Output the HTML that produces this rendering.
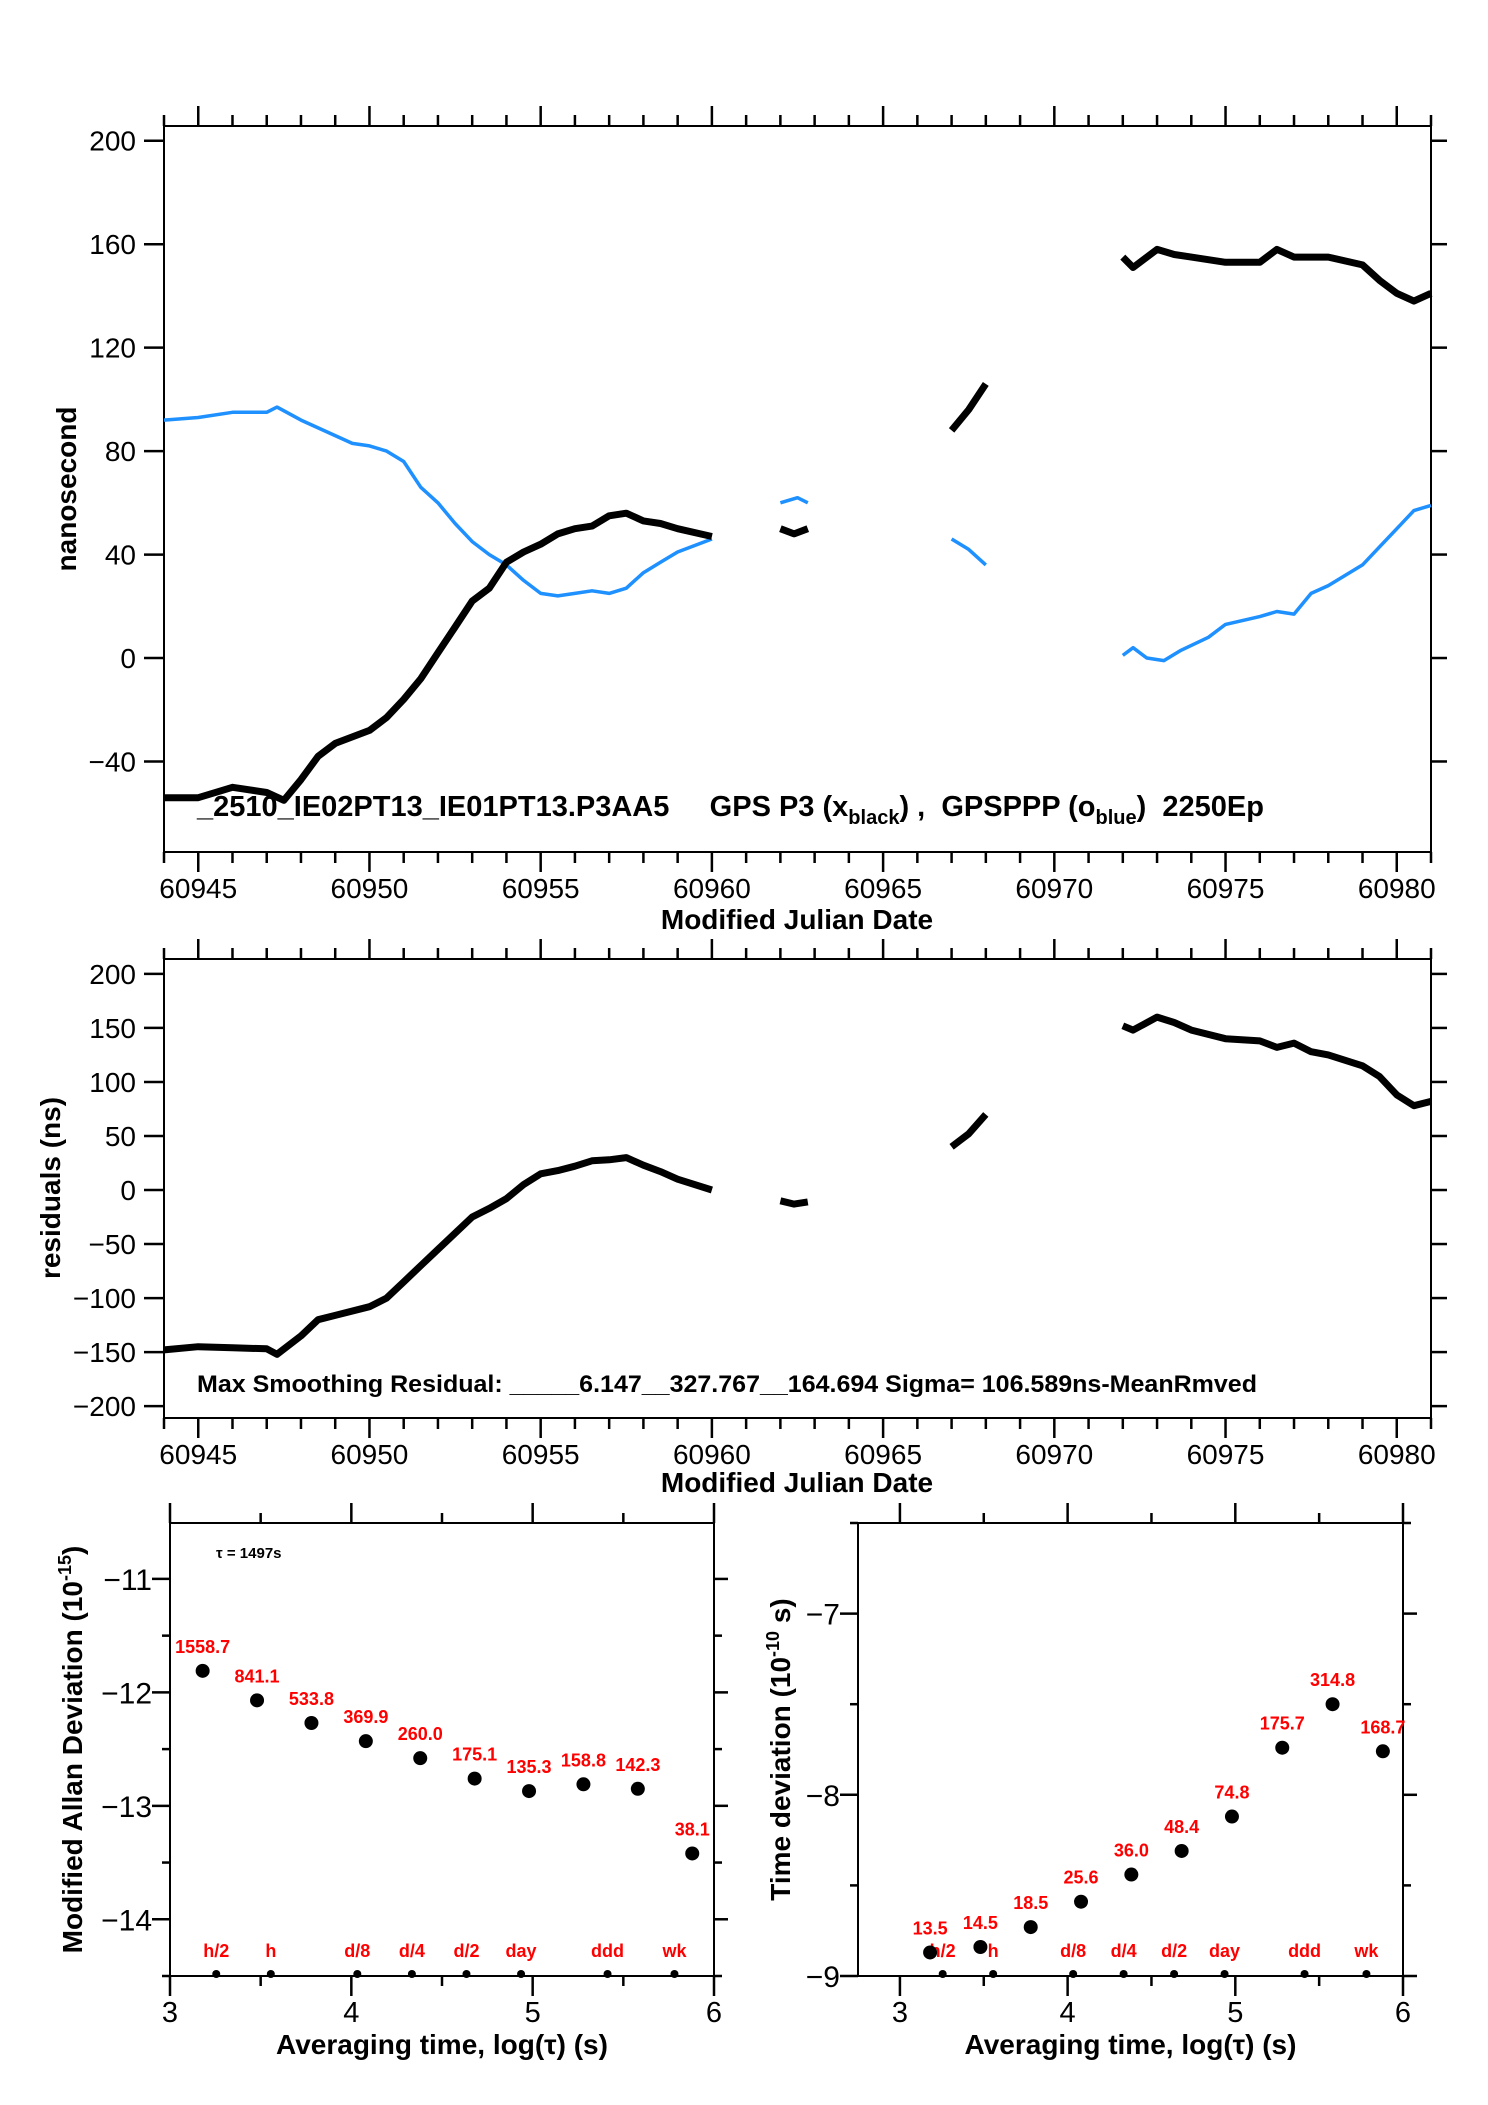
<!DOCTYPE html>
<html><head><meta charset="utf-8"><style>
html,body{margin:0;padding:0;background:#fff;}
svg{display:block;font-family:"Liberation Sans",sans-serif;}
</style></head><body>
<svg id="chart" width="1488" height="2105" viewBox="0 0 1488 2105" xmlns="http://www.w3.org/2000/svg"></svg>
<script>
// ---- Top panel data (MJD, nanoseconds) ----
const blackSegMJD = [
 [60944,60945,60946,60947,60947.5,60948,60948.5,60949,60950,60950.5,60951,60951.5,60952,60952.5,60953,60953.5,60954,60954.5,60955,60955.5,60956,60956.5,60957,60957.5,60958,60958.5,60959,60960],
 [60962,60962.4,60962.8],
 [60967,60967.5,60968],
 [60972,60972.3,60973,60973.5,60974,60975,60976,60976.5,60977,60978,60979,60979.5,60980,60980.5,60981]
];
const blackSegNs = [
 [-54,-54,-50,-52,-55,-47,-38,-33,-28,-23,-16,-8,2,12,22,27,37,41,44,48,50,51,55,56,53,52,50,47],
 [50,48,50],
 [88,96,106],
 [155,151,158,156,155,153,153,158,155,155,152,146,141,138,141]
];
const blueSegMJD = [
 [60944,60945,60946,60947,60947.3,60948,60949,60949.5,60950,60950.5,60951,60951.5,60952,60952.5,60953,60953.5,60954,60954.5,60955,60955.5,60956,60956.5,60957,60957.5,60958,60958.5,60959,60960],
 [60962,60962.5,60962.8],
 [60967,60967.5,60968],
 [60972,60972.3,60972.7,60973.2,60973.7,60974.5,60975,60976,60976.5,60977,60977.5,60978,60978.5,60979,60979.5,60980,60980.5,60981]
];
const blueSegNs = [
 [92,93,95,95,97,92,86,83,82,80,76,66,60,52,45,40,36,30,25,24,25,26,25,27,33,37,41,46],
 [60,62,60],
 [46,42,36],
 [1,4,0,-1,3,8,13,16,18,17,25,28,32,36,43,50,57,59]
];
// ---- Middle panel residuals ----
const residSegMJD = [
 [60944,60945,60946,60947,60947.3,60948,60948.5,60949,60950,60950.5,60951,60951.5,60952,60952.5,60953,60953.5,60954,60954.5,60955,60955.5,60956,60956.5,60957,60957.5,60958,60958.5,60959,60960],
 [60962,60962.4,60962.8],
 [60967,60967.5,60968],
 [60972,60972.3,60973,60973.5,60974,60975,60976,60976.5,60977,60977.5,60978,60979,60979.5,60980,60980.5,60981]
];
const residSegNs = [
 [-148,-145,-146,-147,-152,-135,-120,-116,-108,-100,-85,-70,-55,-40,-25,-17,-8,5,15,18,22,27,28,30,23,17,10,0],
 [-10,-13,-11],
 [40,52,70],
 [152,148,160,155,148,140,138,132,136,128,125,115,105,88,78,82]
];
const mjdTicks = [60945,60950,60955,60960,60965,60970,60975,60980];
const topYTicks = [200,160,120,80,40,0,-40];
const midYTicks = [200,150,100,50,0,-50,-100,-150,-200];
// ---- Bottom-left: Modified Allan deviation ----
const madevLogTau = [3.18,3.48,3.78,4.08,4.38,4.68,4.98,5.28,5.58,5.88];
const madevLog = [-11.81,-12.07,-12.27,-12.43,-12.58,-12.76,-12.87,-12.81,-12.85,-13.42];
const madevLabels = ["1558.7","841.1","533.8","369.9","260.0","175.1","135.3","158.8","142.3","38.1"];
// ---- Bottom-right: Time deviation ----
const tdevLogTau = [3.18,3.48,3.78,4.08,4.38,4.68,4.98,5.28,5.58,5.88];
const tdevLog = [-8.87,-8.84,-8.73,-8.59,-8.44,-8.31,-8.12,-7.74,-7.50,-7.76];
const tdevLabels = ["13.5","14.5","18.5","25.6","36.0","48.4","74.8","175.7","314.8","168.7"];
const markerNames = ["h/2","h","d/8","d/4","d/2","day","ddd","wk"];
const markerLogTau = [3.255,3.556,4.033,4.334,4.635,4.936,5.413,5.782];
const allanXTicks = [3,4,5,6];
const allanYTicks = [-11,-12,-13,-14];
const tdevYTicks = [-7,-8,-9];

const NS = "http://www.w3.org/2000/svg";
const svg = document.getElementById("chart");
function mk(tag, attrs, parent, text){
  const e = document.createElementNS(NS, tag);
  for (const k in attrs) e.setAttribute(k, attrs[k]);
  if (text !== undefined) e.textContent = text;
  (parent || svg).appendChild(e);
  return e;
}
function lin(d0,d1,r0,r1){ return v => r0 + (v-d0)/(d1-d0)*(r1-r0); }

function frame(g, L, R, T, B){
  const f = mk("rect",{x:L,y:T,width:R-L,height:B-T,fill:"none",stroke:"#000","stroke-width":2},g);
  
  
}
function tick(g,x1,y1,x2,y2){ mk("line",{x1:x1,y1:y1,x2:x2,y2:y2,stroke:"#000","stroke-width":2.5},g); }

function seriesPath(xs, ys, sx, sy){
  return xs.map((v,i)=>(i?"L":"M")+sx(v).toFixed(1)+","+sy(ys[i]).toFixed(1)).join("");
}

// ================= TOP PANEL =================
(function(){
  const L=164,R=1431,T=126,B=852;
  const sx = lin(60944,60981,L,R), sy = lin(-75,205.7,B,T);
  const g = mk("g",{});
  
  
  frame(g,L,R,T,B);
  for(let d=60944; d<=60981; d++){
    const major = mjdTicks.includes(d);
    const len = major?20:11;
    tick(g,sx(d),B,sx(d),B+len);
    tick(g,sx(d),T,sx(d),T-len);
  }
  mjdTicks.forEach(d=>{
    const t = mk("text",{x:sx(d),y:B+46,"text-anchor":"middle","font-size":28},g,String(d));
    
    
  });
  topYTicks.forEach(v=>{
    tick(g,L-20,sy(v),L,sy(v));
    tick(g,R,sy(v),R+16,sy(v));
    const t = mk("text",{x:L-28,y:sy(v)+10,"text-anchor":"end","font-size":28},g,(v<0?"\u2212":"")+Math.abs(v));
    
    
  });
  const xt = mk("text",{x:797,y:929,"text-anchor":"middle","font-size":28,"font-weight":"bold"},g,"Modified Julian Date");
  
  
  const yt = mk("text",{x:0,y:0,"text-anchor":"middle","font-size":28,"font-weight":"bold",transform:"translate(76,489) rotate(-90)"},g,"nanosecond");
  
  
  blueSegMJD.forEach((xs,i)=>{
    const p = mk("path",{d:seriesPath(xs,blueSegNs[i],sx,sy),fill:"none",stroke:"#1e90ff","stroke-width":3.5,"stroke-linejoin":"round"},g);
    
    
  });
  blackSegMJD.forEach((xs,i)=>{
    const p = mk("path",{d:seriesPath(xs,blackSegNs[i],sx,sy),fill:"none",stroke:"#000","stroke-width":7,"stroke-linejoin":"round"},g);
    
    
  });
  const ann = mk("text",{x:197,y:816,"font-size":29,"font-weight":"bold"},g);
  
  
  mk("tspan",{},ann,"_2510_IE02PT13_IE01PT13.P3AA5\u00a0\u00a0\u00a0\u00a0 GPS P3 (x");
  mk("tspan",{"font-size":20,dy:8},ann,"black");
  mk("tspan",{dy:-8},ann,") ,\u00a0 GPSPPP (o");
  mk("tspan",{"font-size":20,dy:8},ann,"blue");
  mk("tspan",{dy:-8},ann,")\u00a0 2250Ep");
})();

// ================= MIDDLE PANEL =================
(function(){
  const L=164,R=1431,T=959,B=1418;
  const sx = lin(60944,60981,L,R), sy = lin(-211,213.8,B,T);
  const g = mk("g",{});
  
  
  frame(g,L,R,T,B);
  for(let d=60944; d<=60981; d++){
    const major = mjdTicks.includes(d);
    const len = major?20:11;
    tick(g,sx(d),B,sx(d),B+len);
    tick(g,sx(d),T,sx(d),T-len);
  }
  mjdTicks.forEach(d=>{
    const t = mk("text",{x:sx(d),y:B+46,"text-anchor":"middle","font-size":28},g,String(d));
    
    
  });
  midYTicks.forEach(v=>{
    tick(g,L-20,sy(v),L,sy(v));
    tick(g,R,sy(v),R+16,sy(v));
    const t = mk("text",{x:L-28,y:sy(v)+10,"text-anchor":"end","font-size":28},g,(v<0?"\u2212":"")+Math.abs(v));
    
    
  });
  const xt = mk("text",{x:797,y:1492,"text-anchor":"middle","font-size":28,"font-weight":"bold"},g,"Modified Julian Date");
  
  
  const yt = mk("text",{x:0,y:0,"text-anchor":"middle","font-size":28,"font-weight":"bold",transform:"translate(60,1188) rotate(-90)"},g,"residuals (ns)");
  
  
  residSegMJD.forEach((xs,i)=>{
    const p = mk("path",{d:seriesPath(xs,residSegNs[i],sx,sy),fill:"none",stroke:"#000","stroke-width":7,"stroke-linejoin":"round"},g);
    
    
  });
  const ann = mk("text",{x:197,y:1392,"font-size":24,"font-weight":"bold",textLength:1060,lengthAdjust:"spacingAndGlyphs"},g,"Max Smoothing Residual: _____6.147__327.767__164.694  Sigma= 106.589ns-MeanRmved");
  
  
})();

// ================= BOTTOM PANELS =================
function stabilityPanel(opts){
  const {L,R,T,B,xmin,xmax,ymin,ymax,xs,ys,labels,yTicks,name,ytitle,ytx} = opts;
  const sx = lin(xmin,xmax,L,R), sy = lin(ymin,ymax,B,T);
  const g = mk("g",{});
  
  
  frame(g,L,R,T,B);
  for(let v=3; v<=6.001; v+=0.5){
    const major = Math.abs(v-Math.round(v))<1e-6;
    const len = major?20:10;
    tick(g,sx(v),B,sx(v),B+len);
    tick(g,sx(v),T,sx(v),T-len);
  }
  allanXTicks.forEach(v=>{
    const t = mk("text",{x:sx(v),y:B+46,"text-anchor":"middle","font-size":29},g,String(v));
    
    
  });
  for(let v=Math.ceil(ymin*2)/2; v<=ymax+1e-6; v+=0.5){
    const major = Math.abs(v-Math.round(v))<1e-6;
    tick(g,L-(major?18:8),sy(v),L,sy(v));
    tick(g,R,sy(v),R+(major?14:8),sy(v));
  }
  yTicks.forEach(v=>{
    const t = mk("text",{x:L-18,y:sy(v)+11,"text-anchor":"end","font-size":30},g,"\u2212"+Math.abs(v));
    
    
  });
  const xt = mk("text",{x:(L+R)/2,y:2054,"text-anchor":"middle","font-size":28,"font-weight":"bold"},g,"Averaging time, log(\u03c4) (s)");
  
  
  const yt = mk("text",{x:0,y:0,"text-anchor":"middle","font-size":28,"font-weight":"bold",transform:"translate("+ytx+","+((T+B)/2)+") rotate(-90)"},g);
  
  
  mk("tspan",{},yt,ytitle[0]);
  mk("tspan",{"font-size":18,dy:-11},yt,ytitle[1]);
  mk("tspan",{dy:11},yt,ytitle[2]);
  markerLogTau.forEach((v,i)=>{
    const c = mk("circle",{cx:sx(v),cy:B-2,r:4,fill:"#000"},g);
    
    
    const t = mk("text",{x:sx(v),y:B-19,"text-anchor":"middle","font-size":18,"font-weight":"bold",fill:"#ff0000"},g,markerNames[i]);
    
    
  });
  xs.forEach((v,i)=>{
    const c = mk("circle",{cx:sx(v),cy:sy(ys[i]),r:7,fill:"#000"},g);
    
    
    const t = mk("text",{x:sx(v),y:sy(ys[i])-18,"text-anchor":"middle","font-size":18,"font-weight":"bold",fill:"#ff0000"},g,labels[i]);
    
    
  });
  return g;
}
const gl = stabilityPanel({L:170,R:714,T:1523,B:1976,xmin:3,xmax:6,ymin:-14.5,ymax:-10.507,xs:madevLogTau,ys:madevLog,labels:madevLabels,yTicks:allanYTicks,name:"modified-allan-deviation-panel",ytitle:["Modified Allan Deviation (10","-15",")"],ytx:82});
const tau = mk("text",{x:216,y:1558,"font-size":15,"font-weight":"bold"},gl,"\u03c4 = 1497s");


stabilityPanel({L:858,R:1403,T:1523,B:1976,xmin:2.75,xmax:6,ymin:-9,ymax:-6.5,xs:tdevLogTau,ys:tdevLog,labels:tdevLabels,yTicks:tdevYTicks,name:"time-deviation-panel",ytitle:["Time deviation (10","-10"," s)"],ytx:790});
</script>
</body></html>
